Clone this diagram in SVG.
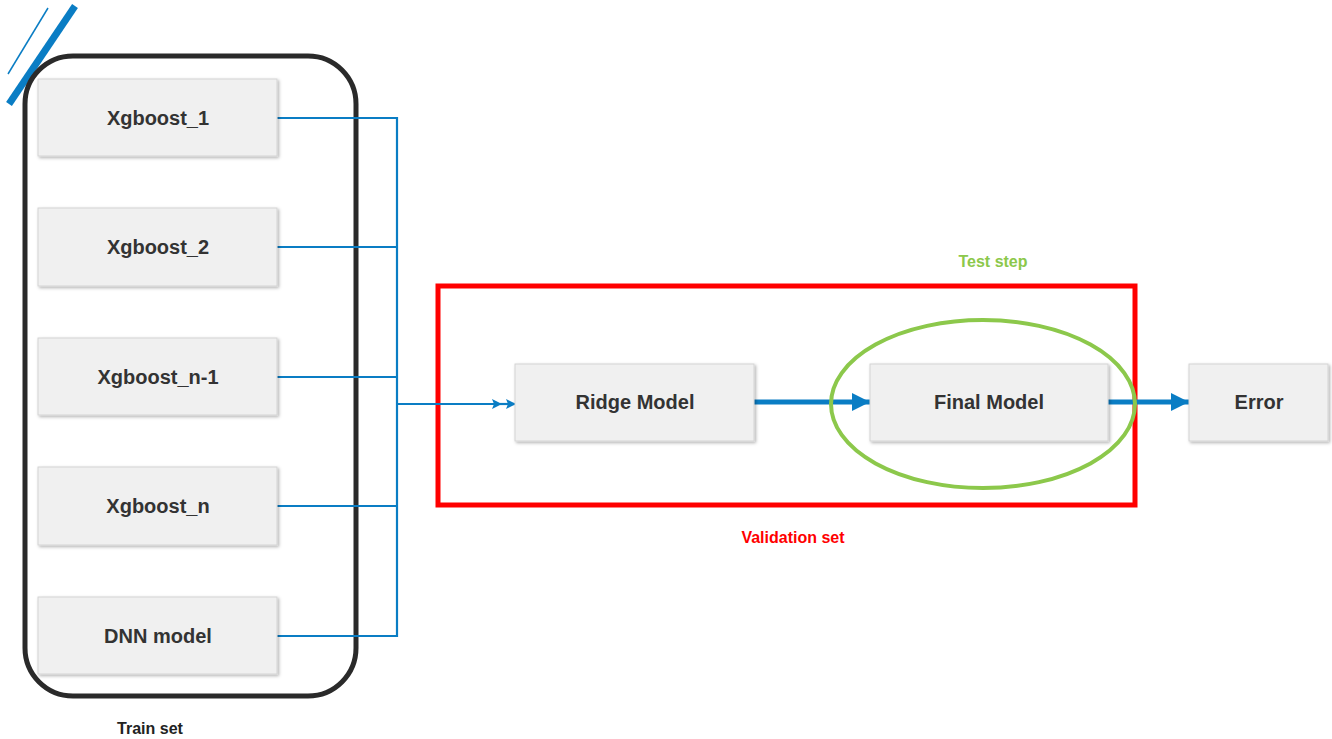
<svg xmlns="http://www.w3.org/2000/svg" width="1332" height="739" viewBox="0 0 1332 739">
<defs>
<style>
.node rect{fill:#f0f0f0;stroke:#d4d4d4;stroke-width:1}
.node text{font-family:"Liberation Sans",Arial,sans-serif;font-weight:bold;font-size:20px;fill:#333;text-anchor:middle}
.lbl{font-family:"Liberation Sans",Arial,sans-serif;font-weight:bold;font-size:16px;text-anchor:middle}
.conn{fill:none;stroke:#0a7dc4;stroke-width:2.2}
.thick{fill:none;stroke:#0a7dc4;stroke-width:5}
</style>
<filter id="sh" x="-10%" y="-10%" width="125%" height="130%">
<feDropShadow dx="1.5" dy="1.5" stdDeviation="1.5" flood-color="#000" flood-opacity="0.3"/>
</filter>
<marker id="sa" viewBox="0 0 10 10" refX="10" refY="5" markerWidth="11" markerHeight="10" markerUnits="userSpaceOnUse" orient="auto">
<path d="M0,0 L10,5 L0,10 L2,5 Z" fill="#0a7dc4"/>
</marker>
<marker id="ba" viewBox="0 0 10 10" refX="10" refY="5" markerWidth="20" markerHeight="18" markerUnits="userSpaceOnUse" orient="auto">
<path d="M0,0 L10,5 L0,10 Z" fill="#0a7dc4"/>
</marker>
</defs>
<rect width="1332" height="739" fill="#fff"/>
<!-- decoration stripes -->
<line x1="9" y1="104" x2="75" y2="6" stroke="#0a7dc4" stroke-width="7"/>
<line x1="8" y1="74" x2="48" y2="8" stroke="#0a7dc4" stroke-width="1.5"/>
<!-- train set container -->
<rect x="25" y="56" width="331" height="640" rx="48" fill="none" stroke="#2a2a2a" stroke-width="5"/>
<!-- validation box -->
<rect x="438" y="286" width="697" height="219" fill="none" stroke="#ff0000" stroke-width="5"/>
<!-- connectors -->
<g id="connectors">
<polyline class="conn" points="277,118 397,118 397,636 277,636"/>
<line class="conn" x1="277" y1="247" x2="397" y2="247"/>
<line class="conn" x1="277" y1="377" x2="397" y2="377"/>
<line class="conn" x1="277" y1="506" x2="397" y2="506"/>
<line class="conn" x1="397" y1="404" x2="502" y2="404" marker-end="url(#sa)"/>
<line class="conn" x1="500" y1="404" x2="516" y2="404" marker-end="url(#sa)"/>
<line class="thick" x1="754" y1="402" x2="870" y2="402" marker-end="url(#ba)"/>
<line class="thick" x1="1108" y1="402" x2="1189" y2="402" marker-end="url(#ba)"/>
</g>
<g id="xgb1" class="node"><rect x="38" y="79" width="239" height="77" filter="url(#sh)"/><text x="158" y="125">Xgboost_1</text></g>
<g id="xgb2" class="node"><rect x="38" y="208" width="239" height="78" filter="url(#sh)"/><text x="158" y="254">Xgboost_2</text></g>
<g id="xgbn1" class="node"><rect x="38" y="338" width="239" height="77" filter="url(#sh)"/><text x="158" y="384">Xgboost_n-1</text></g>
<g id="xgbn" class="node"><rect x="38" y="467" width="239" height="78" filter="url(#sh)"/><text x="158" y="513">Xgboost_n</text></g>
<g id="dnn" class="node"><rect x="38" y="597" width="239" height="77" filter="url(#sh)"/><text x="158" y="643">DNN model</text></g>
<g id="ridge" class="node"><rect x="515" y="364" width="239" height="77" filter="url(#sh)"/><text x="635" y="409">Ridge Model</text></g>
<g id="final" class="node"><rect x="870" y="364" width="238" height="77" filter="url(#sh)"/><text x="989" y="409">Final Model</text></g>
<g id="error" class="node"><rect x="1189" y="364" width="139" height="77" filter="url(#sh)"/><text x="1259" y="409">Error</text></g>
<!-- test step ellipse -->
<ellipse cx="983" cy="404" rx="152" ry="84" fill="none" stroke="#8cc84b" stroke-width="4"/>
<text class="lbl" x="993" y="267" fill="#8cc84b">Test step</text>
<text class="lbl" x="793" y="543" fill="#ff0000">Validation set</text>
<text class="lbl" x="150" y="734" fill="#222">Train set</text>
</svg>
